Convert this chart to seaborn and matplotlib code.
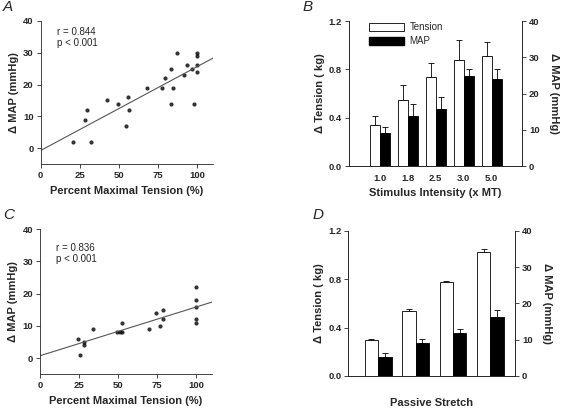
import numpy as np
import pandas as pd
import seaborn as sns
import matplotlib
matplotlib.use('Agg')
import matplotlib.pyplot as plt
from matplotlib.patches import Patch

sns.set_style('ticks')
plt.rcParams['font.family'] = ['Liberation Sans', 'DejaVu Sans']

# Panel A: contraction, percent maximal tension vs change in MAP
a_tension = [20.5, 28.4, 29.4, 32.4, 42.4, 49.4, 54.2, 55.5, 56.4, 67.6, 77.5,
             79.4, 83.5, 83.5, 84.5, 86.7, 91.7, 93.6, 96.6, 97.7, 99.8, 99.8,
             99.8, 99.8]
a_map = [2, 9, 12, 2, 15, 14, 7, 16, 12, 19, 19, 22, 25, 14, 19, 30, 23, 26,
         25, 14, 30, 29, 26, 24]

# Panel C: stretch, percent maximal tension vs change in MAP
c_tension = [24.5, 25.5, 28.3, 28.3, 33.6, 49.4, 50.9, 52.3, 52.6, 69.6, 74.5,
             76.6, 78.5, 78.5, 100, 100, 100, 100, 100]
c_map = [6, 1, 5, 4, 9, 8, 8, 8, 11, 9, 14, 10, 12, 15, 22, 18, 16, 12, 11]

# Panel B: stimulus intensity
b_labels = ['1.0', '1.8', '2.5', '3.0', '5.0']
b_tension = [0.34, 0.55, 0.74, 0.88, 0.91]
b_tension_err = [0.07, 0.12, 0.11, 0.16, 0.12]
b_map = [9.0, 13.9, 15.8, 24.9, 23.9]
b_map_err = [1.9, 3.1, 3.2, 2.0, 3.0]

# Panel D: passive stretch
d_labels = ['1', '2', '3', '4']
d_tension = [0.296, 0.536, 0.777, 1.023]
d_tension_err = [0.01, 0.015, 0.005, 0.025]
d_map = [5.1, 9.1, 11.9, 16.1]
d_map_err = [1.1, 1.0, 1.1, 2.1]

TICK_FS = 6.8
LABEL_FS = 8


def style_axis(ax):
    ax.tick_params(axis='both', labelsize=TICK_FS, length=3, width=0.6,
                   direction='out', pad=2)
    for lab in ax.get_xticklabels() + ax.get_yticklabels():
        lab.set_fontweight('bold')
    for sp in ax.spines.values():
        sp.set_linewidth(0.6)


def scatter_panel(ax, x, y, r_text, text_y):
    ax.set_xlim(0, 110)
    ax.set_ylim(-5, 40)
    sns.regplot(x=x, y=y, ax=ax, ci=None, truncate=False,
                scatter_kws={'s': 9, 'color': 'black', 'linewidths': 0},
                line_kws={'color': '#555555', 'lw': 0.8})
    ax.set_xlim(0, 110)
    ax.set_ylim(-5, 40)
    ax.set_xticks([0, 25, 50, 75, 100])
    ax.set_yticks([0, 10, 20, 30, 40])
    sns.despine(ax=ax)
    ax.text(10.3, text_y, r_text, fontsize=7, va='top', linespacing=1.15)
    ax.set_xlabel('Percent Maximal Tension (%)', fontsize=LABEL_FS,
                  fontweight='bold', labelpad=4)
    ax.set_ylabel('\u0394 MAP (mmHg)', fontsize=LABEL_FS, fontweight='bold',
                  labelpad=3)
    style_axis(ax)


def bar_panel(ax, labels, tension, t_err, mapv, m_err, xlim):
    n = len(labels)
    width = 0.72
    hue_order = ['Tension', 'MAP']
    sns.barplot(x=labels, y=tension, hue=['Tension'] * n, hue_order=hue_order,
                palette={'Tension': 'white', 'MAP': 'black'}, dodge=True,
                width=width, edgecolor='black', linewidth=0.6, legend=False,
                ax=ax)
    ax2 = ax.twinx()
    sns.barplot(x=labels, y=mapv, hue=['MAP'] * n, hue_order=hue_order,
                palette={'Tension': 'white', 'MAP': 'black'}, dodge=True,
                width=width, edgecolor='black', linewidth=0.6, legend=False,
                ax=ax2)
    pos = np.arange(n)
    ax.errorbar(pos - width / 4, tension, yerr=[np.zeros(n), t_err],
                fmt='none', ecolor='black', elinewidth=0.6, capsize=2.2,
                capthick=0.6, zorder=0)
    ax2.errorbar(pos + width / 4, mapv, yerr=[np.zeros(n), m_err],
                 fmt='none', ecolor='black', elinewidth=0.6, capsize=2.2,
                 capthick=0.6, zorder=0)
    ax.set_ylim(0, 1.2)
    ax2.set_ylim(0, 40)
    ax.set_yticks([0, 0.4, 0.8, 1.2])
    ax.set_yticklabels(['0.0', '0.4', '0.8', '1.2'])
    ax2.set_yticks([0, 10, 20, 30, 40])
    ax.set_xlim(*xlim)
    for a in (ax, ax2):
        a.spines['top'].set_visible(False)
        a.spines['right'].set_visible(True)
        a.grid(False)
    ax.set_ylabel('\u0394 Tension ( kg)', fontsize=LABEL_FS,
                  fontweight='bold', labelpad=3)
    ax2.set_ylabel('\u0394 MAP (mmHg)', fontsize=LABEL_FS, fontweight='bold',
                   rotation=-90, labelpad=14)
    style_axis(ax)
    style_axis(ax2)
    ax.tick_params(axis='x', length=0, pad=6)
    return ax2


fig = plt.figure(figsize=(5.65, 4.13), dpi=100)
ax_a = fig.add_axes([0.072, 0.602, 0.305, 0.348])
ax_b = fig.add_axes([0.618, 0.598, 0.306, 0.351])
ax_c = fig.add_axes([0.071, 0.094, 0.304, 0.351])
ax_d = fig.add_axes([0.6165, 0.090, 0.295, 0.351])

scatter_panel(ax_a, a_tension, a_map, 'r = 0.844\np < 0.001', 38)
scatter_panel(ax_c, c_tension, c_map, 'r = 0.836\np < 0.001', 35.7)

bar_panel(ax_b, b_labels, b_tension, b_tension_err, b_map, b_map_err,
          (-1.1, 5.09))
ax_b.set_xlabel('Stimulus Intensity (x MT)', fontsize=LABEL_FS,
                fontweight='bold', labelpad=3)
handles = [Patch(facecolor='white', edgecolor='black', linewidth=0.6,
                 label='Tension'),
           Patch(facecolor='black', edgecolor='black', label='MAP')]
ax_b.legend(handles=handles, loc='upper left', bbox_to_anchor=(0.09, 1.02),
            frameon=False, fontsize=7, handlelength=3.6, handleheight=0.9,
            handletextpad=0.6, labelspacing=0.45, borderaxespad=0)

bar_panel(ax_d, d_labels, d_tension, d_tension_err, d_map, d_map_err,
          (-0.8, 3.66))
ax_d.set_xticklabels([])
ax_d.set_xlabel('Passive Stretch', fontsize=LABEL_FS, fontweight='bold')
ax_d.xaxis.set_label_coords(0.5, -0.15)

for letter, (x, y) in zip('ABCD', [(0.005, 0.983), (0.535, 0.983),
                                  (0.005, 0.479), (0.553, 0.479)]):
    fig.text(x, y, letter, fontsize=11, fontstyle='italic', va='center')

fig.savefig('out.png', dpi=100)
